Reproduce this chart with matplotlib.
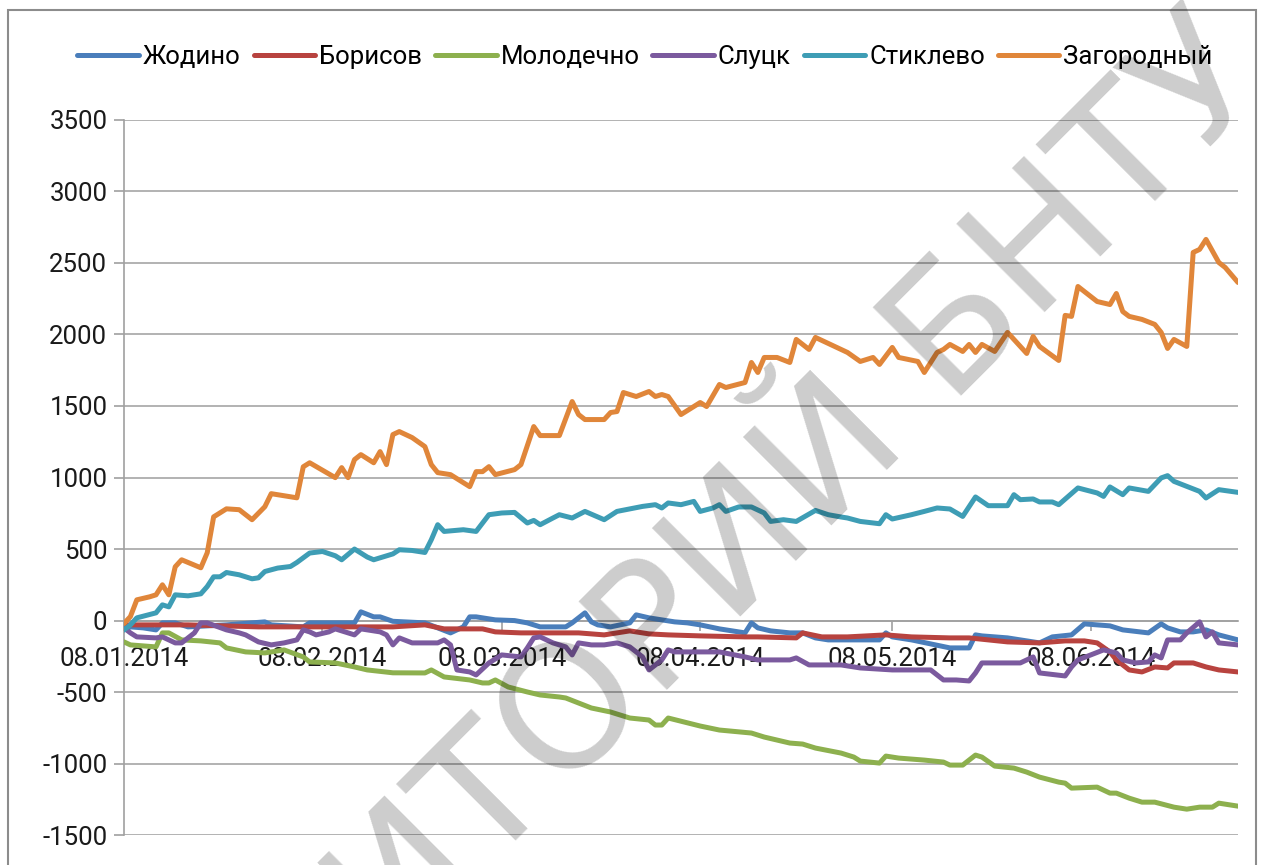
import matplotlib
matplotlib.use('Agg')
import matplotlib.pyplot as plt
import pandas as pd
from matplotlib.patches import Rectangle

plt.rcParams['font.family'] = ['Roboto', 'DejaVu Sans']

# ---------------- data ----------------
START = '2014-01-08'
series_names = ['Жодино', 'Борисов', 'Молодечно', 'Слуцк', 'Стиклево', 'Загородный']
series_colors = ['#4A7EBB', '#B8433F', '#8DB04E', '#7B5A9E', '#3E9DB5', '#E0863A']

# day offsets from 08.01.2014 and values
zhodino_days = [0, 1, 3, 5, 6, 8, 10, 16, 22, 23, 28, 29, 33, 36, 37, 39, 40, 42, 47, 49,
                51, 53, 54, 55, 58, 61, 63, 65, 67, 69, 70, 72, 73, 74, 76, 79, 80, 82, 84, 86,
                88, 90, 93, 97, 98, 99, 101, 104, 106, 108, 110, 113, 118, 119, 120, 123, 126, 129, 132, 133,
                134, 138, 143, 145, 148, 150, 154, 156, 160, 162, 163, 165, 167, 169, 171, 174]
zhodino_vals = [-65, -44, -51, -65, -16, -16, -44, -30, -9, -30, -44, -16, -16, -16, 61, 26, 26, -5, -16, -51,
                -86, -44, 26, 26, 5, 0, -16, -44, -44, -44, -16, 54, -9, -30, -44, -16, 40, 19, 5, -9,
                -16, -30, -58, -86, -16, -51, -72, -86, -86, -121, -135, -135, -135, -86, -114, -135, -163, -191, -191, -100,
                -107, -121, -156, -114, -100, -23, -37, -65, -86, -23, -51, -79, -79, -65, -100, -135]

borisov_days = [0, 10, 21, 32, 42, 47, 50, 56, 58, 62, 68, 71, 75, 77, 79, 82, 85, 90, 97, 99,
                105, 106, 109, 113, 119, 123, 129, 132, 138, 143, 147, 150, 152, 154, 155, 157, 159, 161, 163, 164,
                167, 169, 171, 174]
borisov_vals = [-30, -30, -44, -44, -44, -30, -58, -58, -79, -86, -86, -86, -100, -86, -72, -93, -100, -107, -114, -114,
                -121, -86, -114, -114, -100, -114, -121, -121, -149, -156, -142, -142, -156, -219, -275, -345, -359, -324, -331, -296,
                -296, -324, -345, -359]

molodechno_days = [0, 1, 5, 6, 7, 9, 12, 15, 16, 19, 22, 25, 28, 29, 33, 36, 38, 40, 42, 47,
                   48, 50, 54, 56, 57, 58, 60, 63, 65, 68, 69, 71, 73, 76, 79, 82, 83, 84, 85, 90,
                   93, 98, 100, 104, 106, 108, 112, 114, 115, 118, 119, 121, 125, 128, 129, 131, 133, 134, 136, 139,
                   141, 143, 146, 147, 148, 152, 154, 155, 157, 159, 161, 164, 166, 168, 170, 171, 174]
molodechno_vals = [-149, -170, -184, -86, -86, -135, -142, -156, -191, -219, -226, -205, -254, -289, -296, -324, -345, -355, -365, -366,
                   -345, -394, -415, -436, -436, -415, -464, -499, -520, -534, -541, -576, -611, -639, -681, -695, -730, -730, -681, -737,
                   -765, -786, -814, -856, -863, -891, -926, -954, -982, -996, -947, -961, -975, -989, -1010, -1010, -940, -954, -1017, -1031,
                   -1059, -1094, -1129, -1136, -1171, -1164, -1206, -1206, -1241, -1269, -1269, -1304, -1318, -1304, -1304, -1276, -1297]

slutsk_days = [0, 1, 2, 5, 6, 8, 9, 11, 12, 13, 16, 18, 19, 21, 23, 25, 27, 28, 29, 30,
               32, 33, 35, 36, 37, 40, 41, 42, 43, 45, 47, 49, 50, 51, 52, 54, 55, 57, 59, 62,
               63, 64, 65, 67, 69, 70, 71, 73, 75, 77, 79, 81, 82, 84, 85, 86, 93, 97, 99, 104,
               105, 107, 112, 115, 120, 126, 128, 130, 132, 133, 134, 140, 142, 143, 147, 148, 149, 151, 153, 155,
               156, 158, 160, 161, 162, 163, 165, 166, 168, 169, 170, 171, 174]
slutsk_vals = [-51, -86, -114, -121, -114, -156, -156, -86, -16, -16, -65, -86, -100, -149, -170, -156, -135, -65, -79, -100,
               -79, -58, -86, -100, -58, -79, -100, -170, -121, -156, -156, -156, -135, -170, -345, -359, -380, -296, -240, -254,
               -191, -121, -114, -156, -184, -240, -156, -170, -170, -156, -184, -254, -345, -275, -205, -219, -219, -254, -275, -275,
               -261, -310, -310, -331, -345, -345, -415, -415, -422, -366, -296, -296, -254, -366, -387, -324, -275, -240, -205, -226,
               -275, -296, -289, -240, -261, -135, -135, -86, -9, -114, -79, -156, -170]

stiklevo_days = [0, 1, 2, 5, 6, 7, 8, 10, 12, 13, 14, 15, 16, 18, 20, 21, 22, 24, 26, 27,
                 29, 31, 33, 34, 36, 38, 39, 42, 43, 45, 47, 48, 49, 50, 53, 55, 57, 59, 61, 63,
                 64, 65, 67, 68, 70, 72, 75, 77, 81, 83, 84, 85, 87, 89, 90, 92, 93, 94, 96, 98,
                 100, 101, 103, 105, 108, 110, 112, 113, 115, 118, 119, 120, 123, 125, 127, 129, 131, 133, 135, 138,
                 139, 140, 142, 143, 145, 146, 149, 152, 153, 154, 156, 157, 160, 162, 163, 164, 166, 168, 169, 171,
                 174]
stiklevo_vals = [-65, -30, 19, 54, 110, 96, 180, 173, 187, 238, 306, 306, 336, 320, 292, 299, 343, 367, 378, 406,
                 472, 483, 453, 425, 500, 444, 425, 466, 495, 490, 476, 565, 670, 623, 635, 623, 740, 752, 756, 682,
                 700, 670, 717, 740, 717, 763, 705, 763, 798, 810, 787, 822, 810, 833, 763, 787, 810, 763, 794, 794,
                 752, 693, 705, 693, 770, 740, 724, 717, 693, 677, 740, 710, 740, 763, 787, 780, 728, 864, 803, 803,
                 880, 845, 850, 829, 829, 810, 927, 892, 868, 934, 880, 927, 903, 997, 1013, 973, 938, 903, 857, 915,
                 896]

zagorodny_days = [0, 1, 2, 4, 5, 6, 7, 8, 9, 12, 13, 14, 16, 18, 20, 22, 23, 27, 28, 29,
                  33, 34, 35, 36, 37, 39, 40, 41, 42, 43, 45, 47, 48, 49, 51, 54, 55, 56, 57, 58,
                  61, 62, 64, 65, 68, 70, 71, 72, 75, 76, 77, 78, 80, 82, 83, 84, 85, 87, 90, 91,
                  93, 94, 97, 98, 99, 100, 102, 104, 105, 107, 108, 113, 115, 117, 118, 120, 121, 124, 125, 127,
                  128, 129, 131, 132, 133, 134, 136, 138, 141, 142, 143, 146, 147, 148, 149, 152, 154, 155, 156, 157,
                  159, 161, 162, 163, 164, 166, 167, 168, 169, 171, 172, 174]
zagorodny_vals = [-20, 28, 145, 166, 180, 250, 180, 376, 425, 369, 474, 725, 781, 775, 705, 796, 887, 858, 1075, 1103,
                  999, 1069, 999, 1125, 1160, 1103, 1181, 1090, 1300, 1321, 1279, 1216, 1090, 1034, 1020, 936, 1041, 1041, 1076, 1020,
                  1055, 1090, 1356, 1293, 1293, 1531, 1440, 1405, 1405, 1454, 1461, 1594, 1566, 1601, 1566, 1580, 1566, 1440, 1524, 1496,
                  1650, 1629, 1664, 1804, 1734, 1839, 1839, 1804, 1965, 1895, 1979, 1874, 1811, 1839, 1790, 1909, 1839, 1811, 1734, 1874,
                  1895, 1930, 1881, 1930, 1874, 1930, 1881, 2014, 1867, 1986, 1916, 1818, 2133, 2126, 2335, 2230, 2209, 2286, 2160, 2126,
                  2105, 2070, 2014, 1902, 1965, 1916, 2573, 2594, 2664, 2503, 2468, 2363]

x_tick_labels = ['08.01.2014', '08.02.2014', '08.03.2014', '08.04.2014', '08.05.2014', '08.06.2014']
y_ticks = [-1500, -1000, -500, 0, 500, 1000, 1500, 2000, 2500, 3000, 3500]
AXIS_DAYS = 174
watermark = 'РЕПОЗИТОРИЙ БНТУ'

# ---------------- figure ----------------
W, H = 1261, 865
fig = plt.figure(figsize=(W / 100, H / 100), dpi=100)
L, R, T, B = 124, 1238, 119.8, 835.2
ax = fig.add_axes([L / W, 1 - B / H, (R - L) / W, (B - T) / H])

start = pd.Timestamp(START)
all_days = [zhodino_days, borisov_days, molodechno_days, slutsk_days, stiklevo_days, zagorodny_days]
all_vals = [zhodino_vals, borisov_vals, molodechno_vals, slutsk_vals, stiklevo_vals, zagorodny_vals]
for days, vals, name, col in zip(all_days, all_vals, series_names, series_colors):
    dates = start + pd.to_timedelta(days, unit='D')
    ax.plot(dates, vals, color=col, lw=3.6, solid_joinstyle='round',
            solid_capstyle='round', label=name, zorder=3)

ax.set_ylim(y_ticks[0], y_ticks[-1])
ax.set_xlim(start, start + pd.Timedelta(days=AXIS_DAYS))
ax.set_yticks(y_ticks)
ax.set_yticklabels([str(v) for v in y_ticks])
ax.yaxis.grid(True, color='#A6A6A6', lw=1.2)
ax.set_axisbelow(True)

tick_dates = pd.to_datetime(x_tick_labels, format='%d.%m.%Y')
ax.set_xticks(tick_dates)
ax.set_xticklabels(x_tick_labels)

for s in ['top', 'right']:
    ax.spines[s].set_visible(False)
ax.spines['left'].set_color('#A0A0A0')
ax.spines['left'].set_linewidth(1.2)
ax.spines['bottom'].set_position(('data', 0))
ax.spines['bottom'].set_color('#A0A0A0')
ax.spines['bottom'].set_linewidth(1.2)
ax.spines['bottom'].set_zorder(1)

FS = 18.5
ax.tick_params(axis='y', length=7, width=1.2, color='#A0A0A0', pad=5,
               labelsize=FS, labelcolor='#1A1A1A')
ax.tick_params(axis='x', length=7, width=1.2, color='#A0A0A0', pad=12,
               labelsize=FS, labelcolor='#1A1A1A')

fig.legend(loc='center', bbox_to_anchor=(645 / W, 1 - 57 / H), ncol=6,
           frameon=False, fontsize=FS, handlelength=2.4, handletextpad=0.15,
           columnspacing=0.5, borderaxespad=0)

# outer chart border
fig.add_artist(Rectangle((8 / W, -0.1), (1256 - 8) / W, 1 - 10 / H + 0.1,
                         transform=fig.transFigure, fill=False,
                         edgecolor='#8C8C8C', lw=1.5))

# watermark
fig.text(1240 / W, 1 - 50 / H, watermark, rotation=45, rotation_mode='anchor',
         ha='right', va='center', fontsize=124, color='black', alpha=0.2,
         family='DejaVu Sans', zorder=10)

fig.savefig('out.png', dpi=100)
